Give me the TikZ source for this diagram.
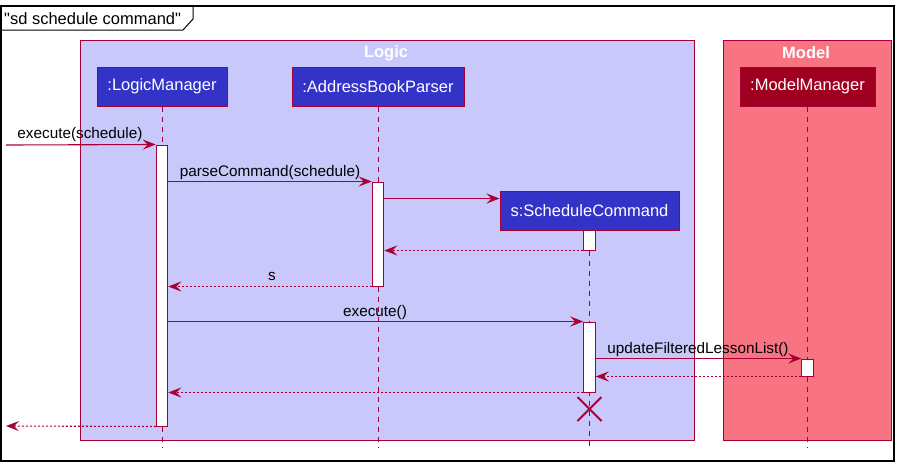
\documentclass[tikz,border=0pt]{standalone}
\usepackage{fontspec}
\setmainfont{Liberation Sans}
\newfontfamily\plainquotes{Liberation Sans}[Ligatures=TeXOff]
\usetikzlibrary{arrows.meta,calc}
\definecolor{uline}{HTML}{A80036}
\definecolor{ufill}{HTML}{3333C8}
\definecolor{logicfill}{HTML}{C8C8FA}
\definecolor{modelfill}{HTML}{F87482}
\definecolor{mmfill}{HTML}{A00020}
\tikzset{
  msgtip/.tip={Stealth[length=13pt,width=10pt,inset=5pt]},
  part/.style={draw=uline,fill=ufill,text=white,minimum height=39pt,inner sep=0pt,font=\fontsize{16.5}{18}\selectfont,line width=1pt},
  actbox/.style={draw=uline,fill=white,minimum width=11.5pt,inner sep=0pt,line width=1pt},
  lifeline/.style={draw=uline,dash pattern=on 5pt off 5pt,line width=1pt},
  msg/.style={draw=uline,line width=1.1pt,-msgtip},
  ret/.style={draw=uline,line width=1.1pt,dash pattern=on 2pt off 2pt,-msgtip},
  msglabel/.style={font=\fontsize{15.3}{17}\selectfont,text=black,inner sep=0pt,anchor=base},
  grouptitle/.style={font=\bfseries\fontsize{16.5}{18}\selectfont,text=white,inner sep=0pt},
}
\begin{document}
\begin{tikzpicture}[x=1pt,y=-1pt]
\useasboundingbox (0,0) rectangle (904,467);
% outer frame
\draw[black,line width=1.2pt] (1,6) rectangle (894,461);
\draw[black,line width=1pt] (1,30) -- (183,30) -- (193,19) -- (193,6);
\node[anchor=base west,inner sep=0pt,font=\plainquotes\fontsize{16.5}{18}\selectfont] (frametitle) at (4,24) {"sd schedule command"};
% groups
\draw[uline,fill=logicfill,line width=1pt] (80.5,40.7) rectangle (694.3,440);
\draw[uline,fill=modelfill,line width=1pt] (723.3,40.7) rectangle (891.7,440);
\node[grouptitle] (logictitle) at (386,53) {Logic};
\node[grouptitle] (modeltitle) at (806,53) {Model};
% participants
\node[part,minimum width=130pt] (lm) at (162,86.5) {:LogicManager};
\node[part,minimum width=172pt] (ap) at (378,86.5) {:AddressBookParser};
\node[part,minimum width=135pt,fill=mmfill] (mm) at (807.5,86.5) {:ModelManager};
\node[part,minimum width=179pt] (sc) at (589.5,210.5) {s:ScheduleCommand};
% lifelines
\coordinate (lmend) at (162,447);
\coordinate (apend) at (378,447);
\coordinate (mmend) at (807.5,447);
\coordinate (scend) at (589.5,447);
\draw[lifeline] (lm.south) -- (lmend);
\draw[lifeline] (ap.south) -- (apend);
\draw[lifeline] (mm.south) -- (mmend);
\draw[lifeline] (sc.south) -- (scend);
% activations
\node[actbox,minimum height=281pt] (alm) at (162,285.5) {};
\node[actbox,minimum height=104pt] (aap) at (378,234) {};
\node[actbox,minimum height=20pt] (asc1) at (589.5,240) {};
\node[actbox,minimum height=70pt] (asc2) at (589.5,357) {};
\node[actbox,minimum height=17pt] (amm) at (807.5,367.5) {};
% messages
\coordinate (inpt) at (6,145);
\coordinate (outpt) at (6,426);
\draw[msg] (inpt) -- (alm.north west);
\node[msglabel] (l1) at (80,138) {execute(schedule)};
\draw[msg] (alm.east |- aap.north) -- (aap.north west);
\node[msglabel] (l2) at (270,176) {parseCommand(schedule)};
\draw[msg] (aap.east |- 0,198.5) -- (sc.west |- 0,198.5);
\draw[ret] (asc1.south west) -- (aap.east |- asc1.south);
\draw[ret] (aap.south west) -- (alm.east |- aap.south);
\node[msglabel] (l3) at (272,280) {s};
\draw[msg] (alm.east |- asc2.north) -- (asc2.north west);
\node[msglabel] (l4) at (375,316) {execute()};
\draw[msg] (asc2.east |- amm.north) -- (amm.north west);
\node[msglabel] (l5) at (698,353) {updateFilteredLessonList()};
\draw[ret] (amm.south west) -- (asc2.east |- amm.south);
\draw[ret] (asc2.south west) -- (alm.east |- asc2.south);
\draw[ret] (alm.south west) -- (outpt);
% destroy
\coordinate (xc) at (589.5,409);
\draw[uline,line width=1.8pt] ($(xc)+(-12,-12)$) -- ($(xc)+(12,12)$);
\draw[uline,line width=1.8pt] ($(xc)+(-12,12)$) -- ($(xc)+(12,-12)$);
\end{tikzpicture}
\end{document}
